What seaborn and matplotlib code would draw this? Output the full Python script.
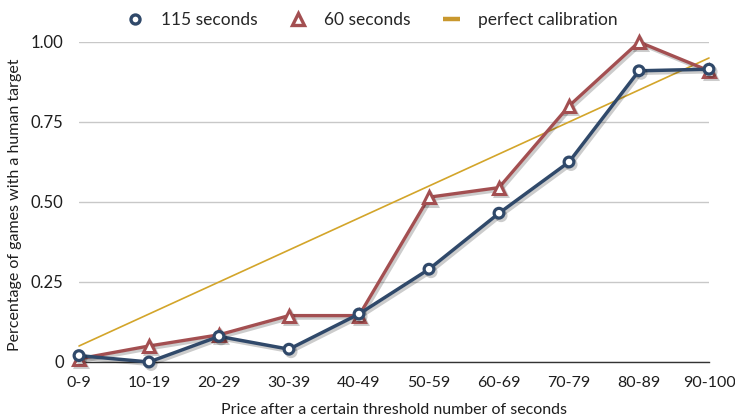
import numpy as np
import pandas as pd
import matplotlib
matplotlib.use("Agg")
import matplotlib.pyplot as plt
import matplotlib.patheffects as pe
from matplotlib.lines import Line2D
import seaborn as sns

# ── Data ────────────────────────────────────────────────────────────────
categories = ["0-9", "10-19", "20-29", "30-39", "40-49",
              "50-59", "60-69", "70-79", "80-89", "90-100"]
sec115 = [0.02, 0.00, 0.08, 0.04, 0.15, 0.29, 0.465, 0.625, 0.91, 0.915]
sec60 = [0.01, 0.05, 0.085, 0.145, 0.145, 0.515, 0.545, 0.80, 1.00, 0.91]
perfect = [0.05, 0.15, 0.25, 0.35, 0.45, 0.55, 0.65, 0.75, 0.85, 0.95]
yticks = [0, 0.25, 0.50, 0.75, 1.00]
yticklabels = ["0", "0.25", "0.50", "0.75", "1.00"]

BLUE = "#30496a"
RED = "#a34f51"
GOLD = "#d3a52a"
TEXT = "#1e1e1e"

sns.set_style("white")
plt.rcParams["font.family"] = ["Lato", "DejaVu Sans"]

df = pd.DataFrame({"x": np.arange(len(categories)),
                   "s115": sec115, "s60": sec60, "perfect": perfect})

fig = plt.figure(figsize=(7.35, 4.18), dpi=100)
ax = fig.add_axes([79 / 735, 56 / 418, 630 / 735, 320 / 418])

shadow = [pe.SimpleLineShadow(offset=(1.5, -1.8), alpha=0.2, shadow_color="black"),
          pe.Normal()]

sns.lineplot(data=df, x="x", y="perfect", ax=ax, color=GOLD, linewidth=1.2,
             zorder=2, clip_on=False)
sns.lineplot(data=df, x="x", y="s60", ax=ax, color=RED, linewidth=2.4,
             marker="^", markersize=8.5, markerfacecolor="white",
             markeredgecolor=RED, markeredgewidth=2.2,
             zorder=3, path_effects=shadow, clip_on=False)
sns.lineplot(data=df, x="x", y="s115", ax=ax, color=BLUE, linewidth=2.5,
             marker="o", markersize=7, markerfacecolor="white",
             markeredgecolor=BLUE, markeredgewidth=2.3,
             zorder=4, path_effects=shadow, clip_on=False)

ax.set_xlim(0, 9)
ax.set_ylim(0, 1.0)
ax.set_xticks(df["x"])
ax.set_xticklabels(categories, fontsize=11.5)
ax.set_yticks(yticks)
ax.set_yticklabels(yticklabels, fontsize=12)
ax.tick_params(axis="both", length=0, colors=TEXT)
ax.tick_params(axis="x", pad=10)
ax.tick_params(axis="y", pad=11)

ax.grid(axis="y", color="#c8c8c8", linewidth=1.0)
ax.grid(axis="x", visible=False)
for side in ["top", "right", "left"]:
    ax.spines[side].set_visible(False)
ax.spines["bottom"].set_color("#333333")
ax.spines["bottom"].set_linewidth(1.0)

ax.set_xlabel("Price after a certain threshold number of seconds",
              fontsize=11.5, color=TEXT)
ax.xaxis.label.set_va("center")
ax.xaxis.set_label_coords(0.5, -0.15)
ax.set_ylabel("Percentage of games with a human target",
              fontsize=11.5, color=TEXT)
ax.yaxis.label.set_va("center")
ax.yaxis.set_label_coords(-0.1016, 0.49)

handles = [
    Line2D([], [], linestyle="none", marker="o", markersize=6.5,
           markerfacecolor="white", markeredgecolor=BLUE, markeredgewidth=2.4),
    Line2D([], [], linestyle="none", marker="^", markersize=8,
           markerfacecolor="white", markeredgecolor=RED, markeredgewidth=2.4),
    Line2D([], [], color="#c9982e", linewidth=3.2, solid_capstyle="butt"),
]
labels = ["115 seconds", "60 seconds", "perfect calibration"]
ax.legend(handles, labels, loc="center left", bbox_to_anchor=(0.0746, 1.069),
          ncol=3, frameon=False, fontsize=12.5, handlelength=1.0,
          columnspacing=1.85, handletextpad=1.0, borderaxespad=0, borderpad=0)

fig.savefig("out.png", dpi=100)
